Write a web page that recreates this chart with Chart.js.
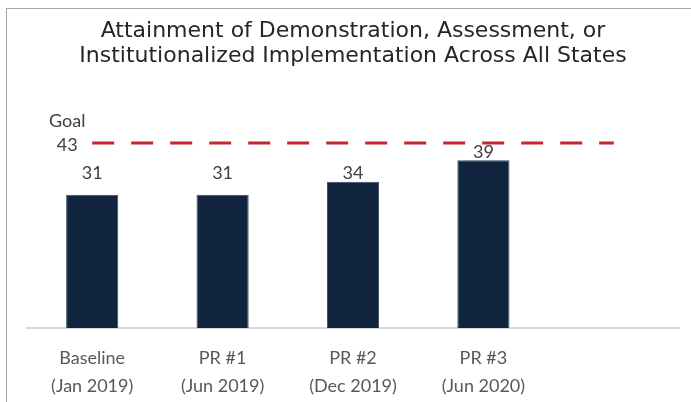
<!DOCTYPE html>
<html>
<head>
<meta charset="utf-8">
<script src="https://cdn.jsdelivr.net/npm/chart.js@4"></script>
<style>
  body { margin: 0; background: #fff; overflow: hidden; }
  #frame { position: absolute; left: 6px; top: 8px; width: 800px; height: 500px; border: 1px solid #a6a6a6; }
  #wrap { position: absolute; left: 0; top: 0; width: 691px; height: 402px; }
</style>
</head>
<body>
<div id="frame"></div>
<div id="wrap"><canvas id="grafico"></canvas></div>
<script>
// Dados do gráfico
const categorias = [['Baseline', '(Jan 2019)'], ['PR #1', '(Jun 2019)'], ['PR #2', '(Dec 2019)'], ['PR #3', '(Jun 2020)'], ''];
const valores = [31, 31, 34, 39, null];
const meta = [43, 43, 43, 43, 43];
const metaRotulo = 'Goal';

const fonteRotulo = "'Lato', sans-serif";

// Plugin para escrever os valores e o rótulo da meta
const rotulos = {
  id: 'rotulos',
  afterDatasetsDraw(chart) {
    const ctx = chart.ctx;
    const barras = chart.getDatasetMeta(0);
    const linha = chart.getDatasetMeta(1);
    const yMeta = chart.scales.y.getPixelForValue(meta[0]);
    ctx.save();
    ctx.fillStyle = '#404040';
    ctx.font = "18px " + fonteRotulo;
    ctx.textAlign = 'center';
    ctx.textBaseline = 'alphabetic';
    barras.data.forEach((el, i) => {
      if (valores[i] == null) return;
      const y = Math.min(el.y - 2, yMeta + 36);
      ctx.fillText(valores[i], el.x, y);
    });
    // rótulo da meta
    const x0 = linha.data[0].x - 25;
    ctx.fillText(metaRotulo, x0, yMeta - 16);
    ctx.fillText(meta[0], x0, yMeta + 8);
    ctx.restore();
  }
};

new Chart(document.getElementById('grafico'), {
  data: {
    labels: categorias,
    datasets: [{
      type: 'bar',
      data: valores,
      backgroundColor: '#10243e',
      borderColor: '#3a4b62',
      borderWidth: 1,
      barPercentage: 0.4,
      categoryPercentage: 1.0,
      order: 2
    }, {
      type: 'line',
      data: meta,
      borderColor: '#c4262d',
      borderWidth: 3,
      borderDash: [22, 17],
      pointRadius: 0,
      fill: false,
      order: 1
    }]
  },
  options: {
    responsive: true,
    maintainAspectRatio: false,
    animation: false,
    layout: { padding: { left: 27, right: 12, top: 0, bottom: -14 } },
    plugins: {
      legend: { display: false },
      tooltip: { enabled: false },
      title: {
        display: true,
        text: ['Attainment of Demonstration, Assessment, or', 'Institutionalized Implementation Across All States'],
        color: '#262626',
        font: { family: "'DejaVu Sans', sans-serif", size: 22, weight: 'normal', lineHeight: 1.136 },
        padding: { top: 19, bottom: 44 }
      }
    },
    scales: {
      x: {
        grid: { display: false, drawTicks: false },
        border: { display: true, color: '#d9d9d9', width: 2 },
        ticks: {
          color: '#595959',
          padding: 16,
          font: { family: fonteRotulo, size: 18, lineHeight: 1.556 }
        }
      },
      y: {
        display: false,
        min: 0,
        max: 50
      }
    }
  },
  plugins: [rotulos]
});
</script>
</body>
</html>
